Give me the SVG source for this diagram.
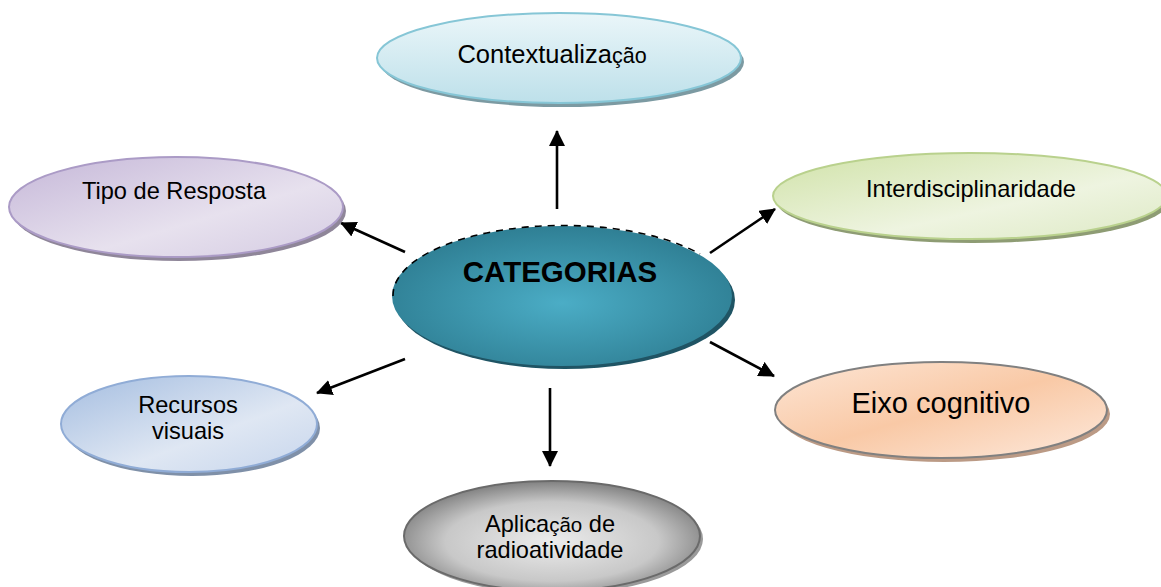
<svg xmlns="http://www.w3.org/2000/svg" width="1161" height="587" viewBox="0 0 1161 587">
<style>
text { font-family: "Liberation Sans", Arial, sans-serif; fill: #000; text-anchor: middle; }
.lbl { font-size: 23.6px; }
.conn { stroke: #000; stroke-width: 2.6; fill: none; marker-end: url(#ah); }
</style>
<defs>
<marker id="ah" markerUnits="userSpaceOnUse" markerWidth="16" markerHeight="16" viewBox="0 0 16 16" refX="15" refY="8" orient="auto">
<path d="M0,0 L16,8 L0,16 z" fill="#000"/>
</marker>
<linearGradient id="gCtx" x1="0" y1="0" x2="0" y2="1">
<stop offset="0" stop-color="#eaf6f9"/><stop offset="1" stop-color="#bde0ea"/>
</linearGradient>
<radialGradient id="gCat" cx="0.5" cy="0.55" r="0.55">
<stop offset="0" stop-color="#4badc6"/><stop offset="1" stop-color="#2f7f94"/>
</radialGradient>
<linearGradient id="gTipo" x1="0" y1="0" x2="1" y2="1">
<stop offset="0" stop-color="#c5b7d8"/><stop offset="0.6" stop-color="#e7e1ee"/><stop offset="1" stop-color="#d4cbe2"/>
</linearGradient>
<linearGradient id="gInt" x1="0" y1="0" x2="1" y2="1">
<stop offset="0" stop-color="#d0e2a8"/><stop offset="0.6" stop-color="#eef4e0"/><stop offset="1" stop-color="#dde9c4"/>
</linearGradient>
<linearGradient id="gRec" x1="0" y1="0" x2="1" y2="1">
<stop offset="0" stop-color="#a4bde0"/><stop offset="0.6" stop-color="#dfe7f3"/><stop offset="1" stop-color="#c6d5ec"/>
</linearGradient>
<linearGradient id="gEixo" x1="0" y1="0" x2="1" y2="1">
<stop offset="0" stop-color="#fde6d6"/><stop offset="0.5" stop-color="#f9c9a6"/><stop offset="1" stop-color="#fde9dc"/>
</linearGradient>
<radialGradient id="gApl" cx="0.5" cy="0.55" r="0.6">
<stop offset="0" stop-color="#ececec"/><stop offset="0.6" stop-color="#c8c8c8"/><stop offset="1" stop-color="#6e6e6e"/>
</radialGradient>
</defs>

<g id="connectors">
<line class="conn" x1="557" y1="209" x2="557" y2="131"/>
<line class="conn" x1="405" y1="252" x2="341" y2="223"/>
<line class="conn" x1="710" y1="253" x2="775" y2="209"/>
<line class="conn" x1="405" y1="359" x2="317" y2="393"/>
<line class="conn" x1="550" y1="388" x2="550" y2="466"/>
<line class="conn" x1="710" y1="342" x2="774" y2="376"/>
</g>

<g id="node-contextualizacao">
<ellipse cx="562" cy="62" rx="182" ry="45" fill="#7c9aa2"/>
<ellipse cx="559" cy="58" rx="182" ry="45" fill="url(#gCtx)" stroke="#86c6d6" stroke-width="2"/>
<text class="lbl" x="552" y="63" style="font-size:25.5px">Contextualiza<tspan style="font-size:21.5px">ção</tspan></text>
</g>

<g id="node-categorias">
<ellipse cx="565" cy="300" rx="170" ry="69" fill="#1f5464"/>
<ellipse cx="562" cy="296" rx="170" ry="70" fill="url(#gCat)"/>
<path d="M393,296 A170,70 0 0 1 700,254" fill="none" stroke="#000" stroke-width="1.6" stroke-dasharray="7 6"/>
<text x="560" y="282" style="font-size:29.5px;font-weight:bold">CATEGORIAS</text>
</g>

<g id="node-tipo">
<ellipse cx="179" cy="211" rx="167" ry="50" fill="#8f8699"/>
<ellipse cx="176" cy="207" rx="167" ry="50" fill="url(#gTipo)" stroke="#ab9bc6" stroke-width="2"/>
<text class="lbl" x="174" y="199">Tipo de Resposta</text>
</g>

<g id="node-interdisciplinaridade">
<ellipse cx="973" cy="200" rx="197" ry="43" fill="#8e9c74"/>
<ellipse cx="970" cy="196" rx="197" ry="43" fill="url(#gInt)" stroke="#b9d18d" stroke-width="2"/>
<text class="lbl" x="971" y="197">Interdisciplinaridade</text>
</g>

<g id="node-recursos">
<ellipse cx="192" cy="428" rx="128" ry="48" fill="#7f90a8"/>
<ellipse cx="189" cy="424" rx="128" ry="48" fill="url(#gRec)" stroke="#90acd6" stroke-width="2"/>
<text class="lbl" x="188" y="413">Recursos</text>
<text class="lbl" x="188" y="439">visuais</text>
</g>

<g id="node-eixo">
<ellipse cx="944" cy="414" rx="166" ry="48" fill="#bb9a85"/>
<ellipse cx="941" cy="410" rx="166" ry="48" fill="url(#gEixo)" stroke="#808080" stroke-width="2"/>
<text x="941" y="413" style="font-size:29px">Eixo cognitivo</text>
</g>

<g id="node-aplicacao">
<ellipse cx="555" cy="539" rx="148" ry="55" fill="#9a9a9a"/>
<ellipse cx="552" cy="536" rx="148" ry="55" fill="url(#gApl)" stroke="#6a6a6a" stroke-width="2"/>
<text class="lbl" x="550" y="532">Aplica<tspan style="font-size:20.5px">ção</tspan> de</text>
<text class="lbl" x="550" y="558">radioatividade</text>
</g>
</svg>
